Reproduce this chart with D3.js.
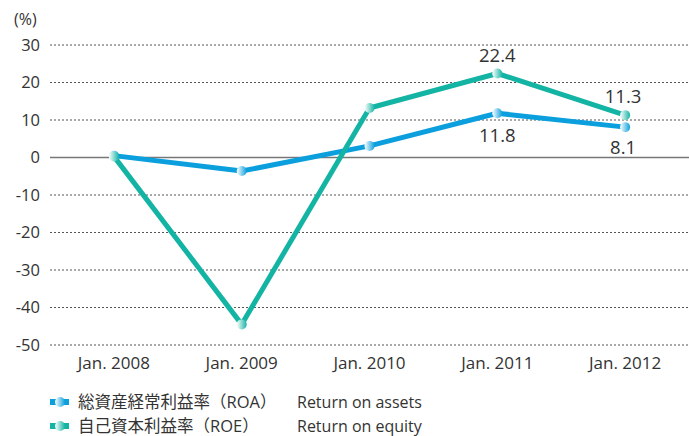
<!DOCTYPE html>
<html>
<head>
<meta charset="utf-8">
<script src="https://cdn.jsdelivr.net/npm/d3@7"></script>
<style>
  body { margin: 0; background: #fff; }
  text { font-family: "Open Sans", "Noto Sans CJK JP", sans-serif; fill: #333; }
</style>
</head>
<body>
<div id="chart"></div>
<script>
// data
const years = ["Jan. 2008", "Jan. 2009", "Jan. 2010", "Jan. 2011", "Jan. 2012"];
const roa = [0.5, -3.6, 3.1, 11.8, 8.1];
const roe = [0.3, -44.5, 13.2, 22.4, 11.3];
const yTicks = [30, 20, 10, 0, -10, -20, -30, -40, -50];

const series = [
  { key: "roa", values: roa, color: "#0b9fdd", jp: "総資産経常利益率（ROA）", en: "Return on assets" },
  { key: "roe", values: roe, color: "#14b4a4", jp: "自己資本利益率（ROE）", en: "Return on equity" }
];

const width = 689, height = 436;
const plotLeft = 50, plotRight = 689, plotTop = 45, plotBottom = 345;

const svg = d3.select("#chart").append("svg")
  .attr("width", width)
  .attr("height", height);

const x = d3.scaleBand().domain(years).range([plotLeft, plotRight]);
const y = d3.scaleLinear().domain([-50, 30]).range([plotBottom, plotTop]);

// gradient for markers
const defs = svg.append("defs");
series.forEach(s => {
  const g = defs.append("linearGradient").attr("id", "grad-" + s.key)
    .attr("x1", "0%").attr("x2", "100%");
  g.append("stop").attr("offset", "0%").attr("stop-color", "#fff");
  g.append("stop").attr("offset", "100%").attr("stop-color", s.color);
});

// grid
svg.append("g").selectAll("line")
  .data(yTicks)
  .join("line")
  .attr("x1", plotLeft).attr("x2", plotRight)
  .attr("y1", d => y(d)).attr("y2", d => y(d))
  .attr("stroke", d => d === 0 ? "#777" : "#555")
  .attr("stroke-width", d => d === 0 ? 1.5 : 1)
  .attr("stroke-dasharray", d => d === 0 ? null : "2,2");

// y labels
svg.append("g").selectAll("text")
  .data(yTicks)
  .join("text")
  .attr("x", 40).attr("y", d => y(d))
  .attr("dy", "0.35em")
  .attr("text-anchor", "end")
  .attr("font-size", 16.5)
  .text(d => d);

svg.append("text").attr("x", 14).attr("y", 25).attr("font-size", 16).text("(%)");

// x labels
svg.append("g").selectAll("text")
  .data(years)
  .join("text")
  .attr("x", d => x(d) + x.bandwidth() / 2)
  .attr("y", 369)
  .attr("text-anchor", "middle")
  .attr("font-size", 17)
  .text(d => d);

const cx = (d, i) => x(years[i]) + x.bandwidth() / 2;

const line = d3.line()
  .x((d, i) => cx(d, i))
  .y(d => y(d));

series.forEach(s => {
  svg.append("path")
    .datum(s.values)
    .attr("fill", "none")
    .attr("stroke", s.color)
    .attr("stroke-width", 5)
    .attr("stroke-linejoin", "round")
    .attr("d", line);
});

series.forEach(s => {
  svg.append("g").selectAll("circle")
    .data(s.values)
    .join("circle")
    .attr("cx", cx)
    .attr("cy", d => y(d))
    .attr("r", 5)
    .attr("fill", "url(#grad-" + s.key + ")");
});

// value labels on the last two points
const labels = [
  { s: 1, i: 3, dy: -12 },
  { s: 1, i: 4, dy: -12 },
  { s: 0, i: 3, dy: 29 },
  { s: 0, i: 4, dy: 27 }
];
svg.append("g").selectAll("text")
  .data(labels)
  .join("text")
  .attr("x", d => cx(null, d.i) - (d.i === 4 ? 2 : 0))
  .attr("y", d => y(series[d.s].values[d.i]) + d.dy)
  .attr("text-anchor", "middle")
  .attr("font-size", 18.5)
  .text(d => series[d.s].values[d.i].toFixed(1));

// legend
const legend = svg.append("g").selectAll("g")
  .data(series)
  .join("g")
  .attr("transform", (d, i) => `translate(50,${402 + i * 24})`);

legend.append("rect")
  .attr("x", 0).attr("y", -3).attr("width", 19).attr("height", 6)
  .attr("fill", d => d.color);
legend.append("circle")
  .attr("cx", 10).attr("cy", 0).attr("r", 5)
  .attr("fill", d => "url(#grad-" + d.key + ")");
legend.append("text")
  .attr("x", 28).attr("dy", "0.35em")
  .attr("font-size", 16.5)
  .text(d => d.jp);
legend.append("text")
  .attr("x", 247).attr("dy", "0.35em")
  .attr("font-size", 16)
  .text(d => d.en);
</script>
</body>
</html>
